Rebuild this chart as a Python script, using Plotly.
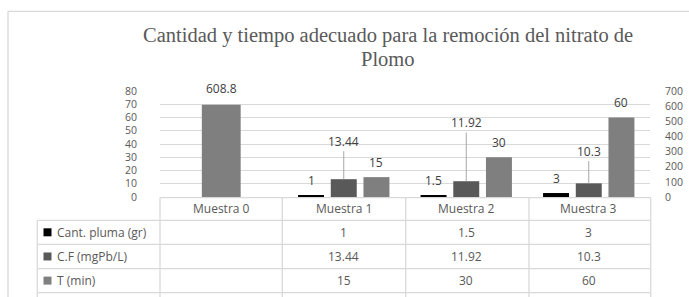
import plotly.graph_objects as go

# ---------------- data ----------------
categories = ["Muestra 0", "Muestra 1", "Muestra 2", "Muestra 3"]
cant_pluma = [None, 1, 1.5, 3]          # Cant. pluma (gr)
cf_mg = [None, 13.44, 11.92, 10.3]      # C.F (mgPb/L)
t_min = [None, 15, 30, 60]              # T (min)
c_inicial = [608.8, None, None, None]   # initial value, secondary axis
series_names = ["Cant. pluma (gr)", "C.F (mgPb/L)", "T (min)"]
left_ticks = [0, 10, 20, 30, 40, 50, 60, 70, 80]
right_ticks = [0, 100, 200, 300, 400, 500, 600, 700]
title_lines = ["Cantidad y tiempo adecuado para la remoción del nitrato de", "Plomo"]

# ---------------- style ----------------
W, H = 689, 297
L, R, T, B = 160, 650, 90.7, 196.7
colors = ["#000000", "#595959", "#7f7f7f"]
c0_color = "#7f7f7f"
grid = "#d9d9d9"
txt = "#595959"
lbl = "#404040"
sans = "Open Sans, Noto Sans, Arial, sans-serif"
serif = "Liberation Serif, Times New Roman, serif"

bw = 0.212
offsets = [-0.373, -0.106, 0.161]
bw0 = 0.317
off0 = -0.1585


def px(x):
    return (x - L) / (R - L)


def py(y):
    return (B - y) / (B - T)


xs = list(range(len(categories)))
series = [cant_pluma, cf_mg, t_min]

fig = go.Figure()
for name, vals, col, off in zip(series_names, series, colors, offsets):
    fig.add_trace(go.Bar(x=xs, y=vals, name=name, marker_color=col,
                         width=bw, offset=off, showlegend=False))
fig.add_trace(go.Bar(x=xs, y=c_inicial, name="C.I", marker_color=c0_color,
                     width=bw0, offset=off0, yaxis="y2", showlegend=False))

ann = []
# moved labels with leader lines (pixel lift above bar top)
lifted = {(1, 1): 38, (1, 2): 58.6, (1, 3): 32.3}
for si, vals in enumerate(series):
    for ci, v in enumerate(vals):
        if v is None:
            continue
        xc = ci + offsets[si] + bw / 2
        if (si, ci) in lifted:
            ann.append(dict(x=xc, y=v, xref="x", yref="y", text=str(v),
                            showarrow=True, arrowhead=0, arrowwidth=1,
                            arrowcolor="#a6a6a6", ax=0, ay=-lifted[(si, ci)],
                            standoff=0, font=dict(family=sans, size=12, color=lbl)))
        else:
            ann.append(dict(x=xc, y=v, xref="x", yref="y", text=str(v),
                            showarrow=False, yanchor="middle", yshift=15,
                            font=dict(family=sans, size=12, color=lbl)))
for ci, v in enumerate(c_inicial):
    if v is None:
        continue
    ann.append(dict(x=ci + off0 + bw0 / 2, y=v, xref="x", yref="y2", text=str(v),
                    showarrow=False, yanchor="middle", yshift=16,
                    font=dict(family=sans, size=12, color=lbl)))

# title (two lines, placed separately)
for line_text, yc in zip(title_lines, [35, 58.5]):
    ann.append(dict(x=px(388), y=py(yc), xref="paper", yref="paper", text=line_text,
                    showarrow=False, xanchor="center", yanchor="middle",
                    font=dict(family=serif, size=20.5, color=txt)))

# data table
col_edges = [160, 282.3, 405.7, 529, 650.7]
row_edges = [197.3, 220, 244, 268.3, 292.3]
shapes = []
line = dict(color=grid, width=1.3)
# outer chart frame
shapes.append(dict(type="line", xref="paper", yref="paper", x0=px(8), x1=px(700),
                   y0=py(11), y1=py(11), line=dict(color=grid, width=1.3)))
shapes.append(dict(type="line", xref="paper", yref="paper", x0=px(8), x1=px(8),
                   y0=py(11), y1=py(305), line=dict(color=grid, width=1.3)))
# horizontal table lines
shapes.append(dict(type="line", xref="paper", yref="paper", x0=px(col_edges[0]),
                   x1=px(col_edges[-1]), y0=py(row_edges[0]), y1=py(row_edges[0]), line=line))
for ry in row_edges[1:]:
    shapes.append(dict(type="line", xref="paper", yref="paper", x0=px(37.3),
                       x1=px(col_edges[-1]), y0=py(ry), y1=py(ry), line=line))
# vertical table lines
shapes.append(dict(type="line", xref="paper", yref="paper", x0=px(37.3), x1=px(37.3),
                   y0=py(row_edges[1]), y1=py(305), line=line))
for cx in col_edges:
    shapes.append(dict(type="line", xref="paper", yref="paper", x0=px(cx), x1=px(cx),
                       y0=py(row_edges[0]), y1=py(305), line=line))

# header: category names
for ci, c in enumerate(categories):
    ann.append(dict(x=ci, y=py((row_edges[0] + row_edges[1]) / 2), xref="x", yref="paper",
                    text=c, showarrow=False, xanchor="center", yanchor="middle",
                    font=dict(family=sans, size=12, color=txt)))
# rows
for si, (name, vals) in enumerate(zip(series_names, series)):
    yc = (row_edges[si + 1] + row_edges[si + 2]) / 2
    shapes.append(dict(type="rect", xref="paper", yref="paper", x0=px(43.5), x1=px(51.5),
                       y0=py(yc - 4), y1=py(yc + 4), fillcolor=colors[si],
                       line=dict(width=0)))
    ann.append(dict(x=px(55), y=py(yc), xref="paper", yref="paper", text=name,
                    showarrow=False, xanchor="left", yanchor="middle",
                    font=dict(family=sans, size=12, color=txt)))
    for ci, v in enumerate(vals):
        if v is None:
            continue
        ann.append(dict(x=ci, y=py(yc), xref="x", yref="paper", text=str(v),
                        showarrow=False, xanchor="center", yanchor="middle",
                        font=dict(family=sans, size=12, color=txt)))

fig.update_layout(
    template="none",
    width=W, height=H,
    margin=dict(l=L, r=W - R, t=T, b=H - B, pad=0, autoexpand=False),
    paper_bgcolor="white", plot_bgcolor="white",
    barmode="overlay",
    xaxis=dict(range=[-0.5, len(categories) - 0.5], showticklabels=False,
               showgrid=False, zeroline=False, showline=False, fixedrange=True,
               automargin=False, ticks=""),
    yaxis=dict(range=[0, 80], tickvals=left_ticks, showgrid=True, gridcolor=grid,
               gridwidth=1, zeroline=False, showline=False, ticks="",
               automargin=False,
               tickfont=dict(family=sans, size=10.5, color=txt),
               ticklabelstandoff=22),
    yaxis2=dict(range=[0, 700], tickvals=right_ticks, overlaying="y", side="right",
                showgrid=False, zeroline=False, showline=False, ticks="",
                automargin=False,
                tickfont=dict(family=sans, size=10.5, color=txt),
                ticklabelstandoff=14),
    annotations=ann,
    shapes=shapes,
)

fig.write_html("out.html", config={"displayModeBar": False},
               post_script="document.body.style.margin='0';document.body.style.overflow='hidden';")
